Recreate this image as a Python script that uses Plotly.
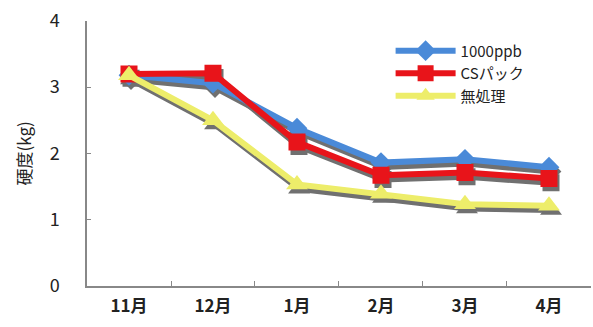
import plotly.graph_objects as go

months = ["11月", "12月", "1月", "2月", "3月", "4月"]
ppb1000 = [3.18, 3.06, 2.38, 1.86, 1.91, 1.79]
cs_pack = [3.20, 3.21, 2.17, 1.67, 1.71, 1.62]
untreated = [3.18, 2.50, 1.53, 1.39, 1.23, 1.21]

series = [
    ("1000ppb", ppb1000, "#4a8ad8", "diamond", 16),
    ("CSパック", cs_pack, "#e8141a", "square", 17),
    ("無処理", untreated, "#eded6a", "triangle-up", 19),
]

font = "Noto Sans CJK JP, Noto Sans, sans-serif"
fig = go.Figure()

# shadow traces on an offset, invisible axis pair (drawn first, underneath)
for name, vals, color, sym, sz in series:
    fig.add_trace(go.Scatter(
        x=months, y=vals, mode="lines+markers", xaxis="x", yaxis="y",
        line=dict(color="#707070", width=6),
        marker=dict(symbol=sym, size=sz, color="#707070"),
        showlegend=False, hoverinfo="skip"))

for name, vals, color, sym, sz in series:
    fig.add_trace(go.Scatter(
        x=months, y=vals, mode="lines+markers", name=name, xaxis="x2", yaxis="y2",
        line=dict(color=color, width=6),
        marker=dict(symbol=sym, size=sz, color=color)))

dy = 0.016
dx = 0.004
fig.update_layout(
    width=593, height=327,
    margin=dict(l=87, r=0, t=21, b=37),
    paper_bgcolor="white", plot_bgcolor="rgba(0,0,0,0)",
    font=dict(family=font, color="#222"),
    xaxis=dict(domain=[dx, 1], range=[-0.5, 5.5], visible=False, anchor="y"),
    yaxis=dict(domain=[0, 1 - dy], range=[0, 4], visible=False, anchor="x"),
    xaxis2=dict(domain=[0, 1 - dx], range=[-0.5, 5.5], showgrid=False, showline=True, anchor="y2",
                linecolor="#888", linewidth=1.5, ticks="inside", tickson="boundaries",
                ticklen=5, tickcolor="#888", ticklabelstandoff=4,
                tickfont=dict(size=17, color="#222", weight="bold")),
    yaxis2=dict(domain=[dy, 1], range=[0, 4], dtick=1, showgrid=False, showline=True, anchor="x2",
                linecolor="#888", linewidth=1.5, ticks="inside", ticklen=4, tickcolor="#888",
                tickfont=dict(size=18, color="#222"), ticklabelstandoff=22,
                title=dict(text="硬度(kg)", font=dict(size=17), standoff=14), zeroline=False),
    legend=dict(x=0.6, y=0.95, xanchor="left", yanchor="top", bgcolor="rgba(0,0,0,0)",
                font=dict(size=15), itemwidth=60, tracegroupgap=0),
)

fig.write_html("out.html")
